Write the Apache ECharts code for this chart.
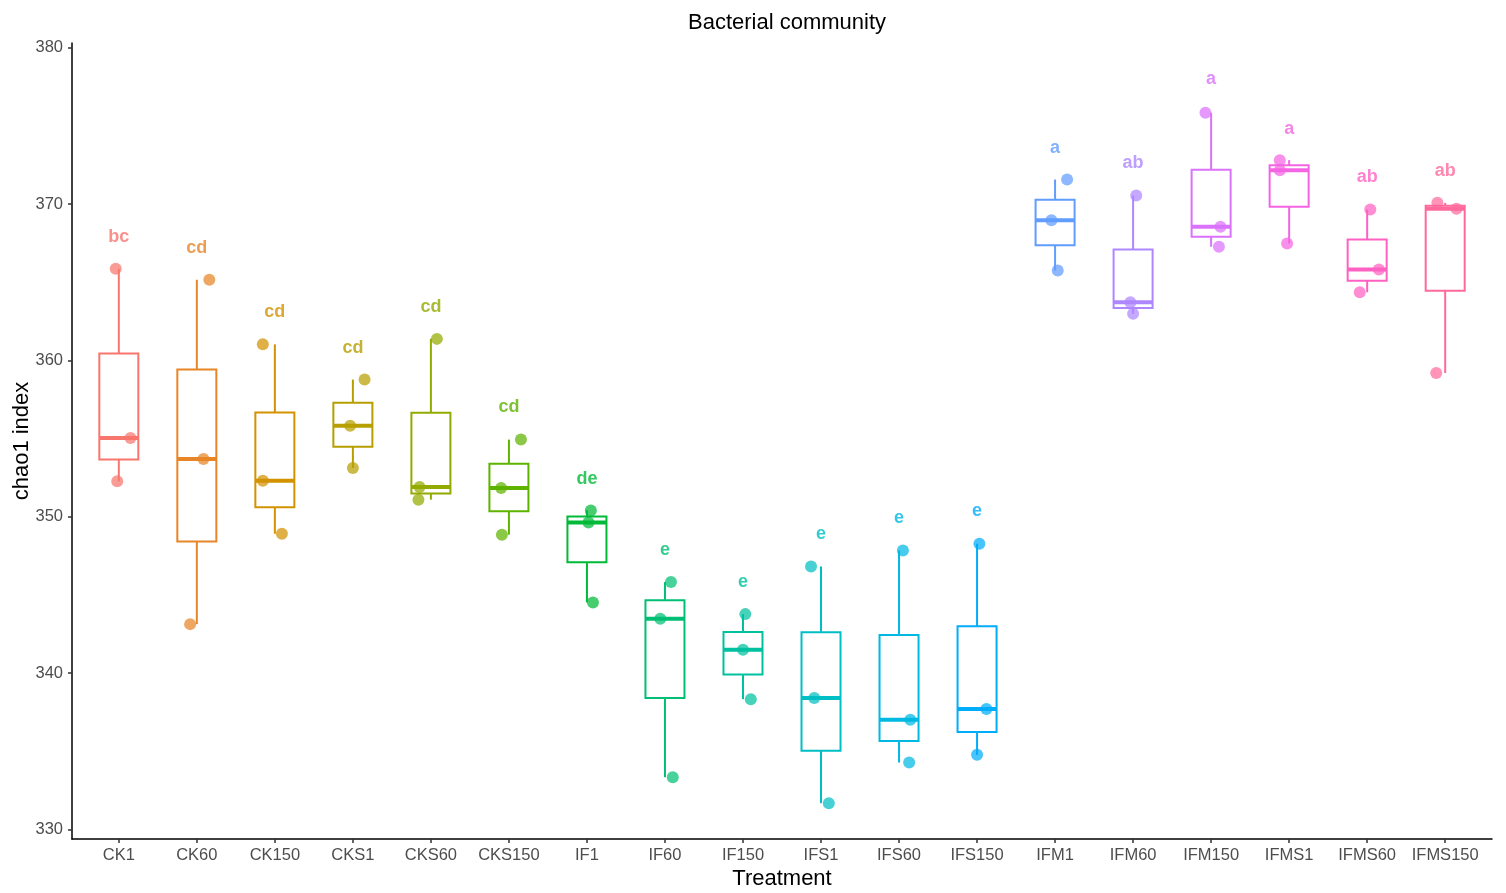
<!DOCTYPE html>
<html>
<head>
<meta charset="utf-8">
<script src="https://cdn.jsdelivr.net/npm/echarts@6/dist/echarts.min.js"></script>
<style>
  html, body { margin: 0; padding: 0; background: #fff; }
  #main { width: 1506px; height: 893px; }
</style>
</head>
<body>
<div id="main"></div>
<script>
// treatments, left to right
const groups = ['CK1', 'CK60', 'CK150', 'CKS1', 'CKS60', 'CKS150', 'IF1', 'IF60', 'IF150',
  'IFS1', 'IFS60', 'IFS150', 'IFM1', 'IFM60', 'IFM150', 'IFMS1', 'IFMS60', 'IFMS150'];

// replicate values (3 per treatment)
const obsValues = [
  [365.86, 355.04, 352.27], [365.16, 353.70, 343.14], [361.03, 352.31, 348.92],
  [358.78, 355.83, 353.13], [361.38, 351.91, 351.10], [354.94, 351.85, 348.86],
  [350.41, 349.64, 344.53], [345.83, 343.48, 333.35], [343.78, 341.50, 338.34],
  [346.83, 338.41, 331.69], [347.85, 337.02, 334.29], [348.28, 337.72, 334.78],
  [371.57, 368.97, 365.75], [370.55, 363.72, 362.98], [375.84, 368.55, 367.27],
  [372.81, 372.17, 367.48], [369.65, 365.81, 364.36], [370.08, 369.70, 359.20]
];
// horizontal jitter of each replicate (category units)
const jitterX = [
  [-0.04, 0.15, -0.02], [0.16, 0.085, -0.086], [-0.154, -0.154, 0.09],
  [0.15, -0.035, 0.0], [0.077, -0.146, -0.16], [0.154, -0.1, -0.09],
  [0.05, 0.02, 0.077], [0.077, -0.06, 0.1], [0.03, 0.0, 0.1],
  [-0.128, -0.086, 0.1], [0.05, 0.145, 0.13], [0.03, 0.12, 0.0],
  [0.154, -0.047, 0.034], [0.04, -0.035, 0.0], [-0.073, 0.12, 0.1],
  [-0.12, -0.12, -0.026], [0.04, 0.15, -0.095], [-0.1, 0.145, -0.115]
];

// box statistics
const whiskerLow  = [352.27, 343.14, 348.92, 353.13, 351.10, 348.86, 344.53, 333.35, 338.34, 331.69, 334.29, 334.78, 365.75, 362.98, 367.27, 367.48, 364.36, 359.20];
const boxLow      = [353.66, 348.42, 350.62, 354.48, 351.50, 350.36, 347.09, 338.42, 339.92, 335.05, 335.66, 336.25, 367.36, 363.35, 367.91, 369.83, 365.09, 364.45];
const boxMid      = [355.04, 353.70, 352.31, 355.83, 351.91, 351.85, 349.64, 343.48, 341.50, 338.41, 337.02, 337.72, 368.97, 363.72, 368.55, 372.17, 365.81, 369.70];
const boxHigh     = [360.45, 359.43, 356.67, 357.30, 356.65, 353.40, 350.03, 344.66, 342.64, 342.62, 342.44, 343.00, 370.27, 367.10, 372.20, 372.49, 367.73, 369.89];
const whiskerHigh = [365.86, 365.16, 361.03, 358.78, 361.38, 354.94, 350.41, 345.83, 343.78, 346.83, 347.85, 348.28, 371.57, 370.55, 375.84, 372.81, 369.65, 370.08];

// significance letters and their heights
const letters = ['bc', 'cd', 'cd', 'cd', 'cd', 'cd', 'de', 'e', 'e', 'e', 'e', 'e', 'a', 'ab', 'a', 'a', 'ab', 'ab'];
const letterY = [367.9, 367.2, 363.1, 360.8, 363.4, 357.0, 352.4, 347.9, 345.8, 348.9, 349.9, 350.4, 373.6, 372.6, 378.0, 374.8, 371.7, 372.1];

const yTicks = [330, 340, 350, 360, 370, 380];

const colors = ['#F8766D', '#E88526', '#D39200', '#B79F00', '#93AA00', '#5EB300', '#00BA38', '#00BF74', '#00C19F',
  '#00BFC4', '#00B9E3', '#00ADFA', '#619CFF', '#AE87FF', '#DB72FB', '#F564E3', '#FF61C3', '#FF699C'];

const FONT = '"Liberation Sans", Arial, Helvetica, sans-serif';
const chart = echarts.init(document.getElementById('main'));

// box table built from the arrays above
let boxData = [];
for (let i = 0; i < groups.length; i++) {
  boxData.push([i, whiskerLow[i], boxLow[i], boxMid[i], boxHigh[i], whiskerHigh[i]]);
}

let pointData = [];
for (let i = 0; i < groups.length; i++) {
  for (let k = 0; k < obsValues[i].length; k++) {
    pointData.push({ value: [i + jitterX[i][k], obsValues[i][k]], itemStyle: { color: colors[i] } });
  }
}

let letterData = [];
for (let i = 0; i < groups.length; i++) {
  letterData.push({ value: [i, letterY[i]], name: letters[i], label: { color: colors[i] } });
}

function renderBox(params, api) {
  const i = api.value(0);
  const col = colors[i];
  const halfW = api.size([0.5, 0])[0] / 2;
  const pLow = api.coord([i, api.value(1)]);
  const pQ1 = api.coord([i, api.value(2)]);
  const pMed = api.coord([i, api.value(3)]);
  const pQ3 = api.coord([i, api.value(4)]);
  const pHigh = api.coord([i, api.value(5)]);
  const thin = { stroke: col, lineWidth: 2, fill: null };
  return {
    type: 'group',
    children: [
      { type: 'line', shape: { x1: pQ3[0], y1: pQ3[1], x2: pHigh[0], y2: pHigh[1] }, style: thin },
      { type: 'line', shape: { x1: pQ1[0], y1: pQ1[1], x2: pLow[0], y2: pLow[1] }, style: thin },
      { type: 'rect', shape: { x: pQ3[0] - halfW, y: pQ3[1], width: halfW * 2, height: pQ1[1] - pQ3[1] },
        style: { stroke: col, lineWidth: 2, fill: '#fff' } },
      { type: 'line', shape: { x1: pMed[0] - halfW, y1: pMed[1], x2: pMed[0] + halfW, y2: pMed[1] },
        style: { stroke: col, lineWidth: 4 } }
    ]
  };
}

const option = {
  backgroundColor: '#ffffff',
  animation: false,
  title: {
    text: 'Bacterial community',
    left: 782,
    top: 7,
    textAlign: 'center',
    textStyle: { fontFamily: FONT, fontSize: 22, fontWeight: 'normal', color: '#000' }
  },
  grid: { left: 72, right: 14, top: 43, bottom: 54, containLabel: false, outerBoundsMode: 'none' },
  xAxis: {
    type: 'value',
    min: -0.6,
    max: 17.6,
    name: 'Treatment',
    nameLocation: 'middle',
    nameGap: 29,
    nameMoveOverlap: false,
    nameTextStyle: { fontFamily: FONT, fontSize: 22, color: '#000' },
    axisLine: { show: true, onZero: false, lineStyle: { color: '#000', width: 1.5 } },
    axisTick: { show: true, length: 4, customValues: groups.map((g, i) => i), lineStyle: { color: '#333', width: 1.5 } },
    axisLabel: {
      customValues: groups.map((g, i) => i),
      formatter: v => groups[Math.round(v)],
      fontFamily: FONT, fontSize: 16.5, color: '#4D4D4D', margin: 8
    },
    splitLine: { show: false }
  },
  yAxis: {
    type: 'value',
    min: 329.4,
    max: 380.3,
    name: 'chao1 index',
    nameLocation: 'middle',
    nameRotate: 90,
    nameGap: 39,
    nameMoveOverlap: false,
    nameTextStyle: { fontFamily: FONT, fontSize: 22, color: '#000' },
    axisLine: { show: true, onZero: false, lineStyle: { color: '#000', width: 1.5 } },
    axisTick: { show: true, length: 4, customValues: yTicks, lineStyle: { color: '#333', width: 1.5 } },
    axisLabel: { customValues: yTicks, fontFamily: FONT, fontSize: 16.5, color: '#4D4D4D', margin: 9 },
    splitLine: { show: false }
  },
  series: [
    {
      type: 'custom',
      renderItem: renderBox,
      encode: { x: 0, y: [1, 2, 3, 4, 5] },
      data: boxData,
      z: 2
    },
    {
      type: 'scatter',
      symbolSize: 12,
      itemStyle: { opacity: 0.72 },
      data: pointData,
      z: 3
    },
    {
      type: 'scatter',
      symbolSize: 0,
      label: {
        show: true,
        position: 'inside',
        formatter: '{b}',
        fontFamily: FONT,
        fontSize: 18,
        fontWeight: 'bold'
      },
      data: letterData,
      z: 4
    }
  ]
};

chart.setOption(option);
</script>
</body>
</html>
